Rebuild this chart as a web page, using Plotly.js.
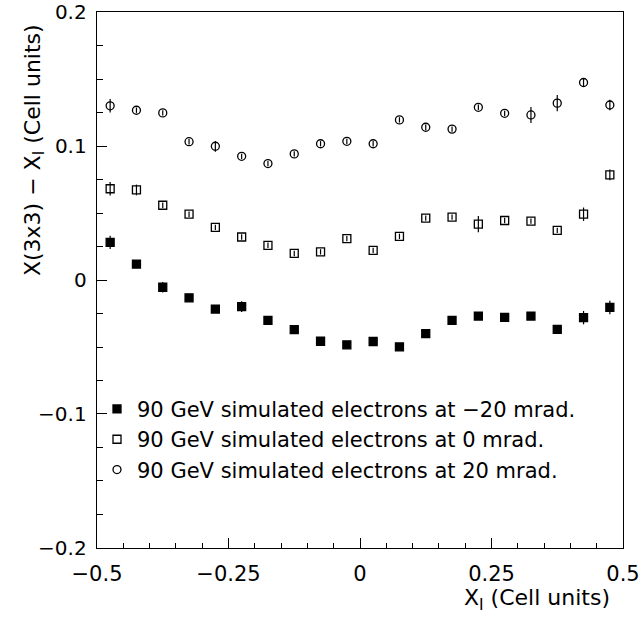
<!DOCTYPE html>
<html>
<head>
<meta charset="utf-8">
<script src="https://cdn.plot.ly/plotly-3.0.1.min.js"></script>
<style>html,body{margin:0;padding:0;background:#fff;}#chart{width:641px;height:620px;}</style>
</head>
<body>
<div id="chart"></div>
<script>
// impact position bin centres (cell units)
const xImpact = [-0.475,-0.425,-0.375,-0.325,-0.275,-0.225,-0.175,-0.125,-0.075,-0.025,
                 0.025,0.075,0.125,0.175,0.225,0.275,0.325,0.375,0.425,0.475];

// -20 mrad (filled squares)
const yMinus20 = [0.0281,0.0119,-0.0054,-0.0133,-0.0217,-0.0198,-0.0301,-0.0370,-0.0457,-0.0484,
                  -0.0459,-0.0499,-0.0400,-0.0301,-0.0269,-0.0279,-0.0269,-0.0368,-0.0281,-0.0205];
const eMinus20 = [0.005,0.002,0.004,0.003,0.002,0.004,0.002,0.002,0.002,0.002,
                  0.002,0.002,0.002,0.002,0.002,0.002,0.002,0.002,0.005,0.005];

// 0 mrad (open squares)
const yZero = [0.0681,0.0672,0.0558,0.0491,0.0393,0.0321,0.0259,0.0198,0.0210,0.0309,
               0.0221,0.0326,0.0462,0.0469,0.0417,0.0444,0.0439,0.0370,0.0491,0.0785];
const eZero = [0.005,0.004,0.002,0.002,0.002,0.002,0.002,0.002,0.002,0.002,
               0.002,0.002,0.002,0.002,0.006,0.002,0.002,0.002,0.005,0.004];

// +20 mrad (open circles)
const yPlus20 = [0.1300,0.1267,0.1247,0.1032,0.0998,0.0923,0.0869,0.0941,0.1017,0.1035,
                 0.1017,0.1195,0.1140,0.1126,0.1289,0.1244,0.1232,0.1320,0.1474,0.1306];
const ePlus20 = [0.005,0.002,0.002,0.002,0.004,0.002,0.002,0.002,0.002,0.002,
                 0.002,0.002,0.002,0.002,0.002,0.002,0.006,0.006,0.003,0.004];

const seriesNames = ["90 GeV simulated electrons at \u221220 mrad.",
                     "90 GeV simulated electrons at 0 mrad.",
                     "90 GeV simulated electrons at 20 mrad."];

const xTickVals = [-0.5,-0.25,0,0.25,0.5];
const xTickText = ["\u22120.5","\u22120.25","0","0.25","0.5"];
const yTickVals = [-0.2,-0.1,0,0.1,0.2];
const yTickText = ["\u22120.2","\u22120.1","0","0.1","0.2"];

const FONT = "DejaVu Sans, sans-serif";

function mk(y, e, name, symbol) {
  return {
    x: xImpact, y: y, name: name, type: "scatter", mode: "markers",
    marker: {symbol: symbol, size: 8, color: "black", line: {color: "black", width: 1.3}},
    error_y: {type: "data", array: e, visible: true, color: "black", thickness: 1.2, width: 0},
    cliponaxis: false
  };
}

const data = [
  mk(yMinus20, eMinus20, seriesNames[0], "square"),
  mk(yZero, eZero, seriesNames[1], "square-open"),
  mk(yPlus20, ePlus20, seriesNames[2], "circle-open")
];

const axisCommon = {
  showgrid: false, zeroline: false, showline: true, mirror: true,
  linecolor: "black", linewidth: 1.3,
  ticks: "inside", ticklen: 10, tickwidth: 1, tickcolor: "black",
  tickmode: "array", ticklabeloverflow: "allow",
  tickfont: {family: FONT, size: 21, color: "black"}
};

const layout = {
  width: 641, height: 620,
  margin: {l: 97, r: 18, t: 12, b: 72},
  paper_bgcolor: "white", plot_bgcolor: "white",
  font: {family: FONT, size: 21, color: "black"},
  showlegend: true,
  legend: {
    x: 0.0, y: 0.297, xanchor: "left", yanchor: "top",
    bgcolor: "rgba(0,0,0,0)", borderwidth: 0,
    font: {family: FONT, size: 21, color: "black"},
    itemwidth: 30, traceorder: "normal"
  },
  xaxis: Object.assign({}, axisCommon, {
    range: [-0.5, 0.5], tickvals: xTickVals, ticktext: xTickText,
    ticklabelstandoff: 6,
    minor: {dtick: 0.05, tick0: 0, ticks: "inside", ticklen: 5, tickcolor: "black", showgrid: false}
  }),
  yaxis: Object.assign({}, axisCommon, {
    range: [-0.20001, 0.20001], tickvals: yTickVals, ticktext: yTickText,
    ticklabelstandoff: 5,
    tickfont: {family: FONT, size: 20, color: "black"},
    minor: {dtick: 0.025, tick0: 0, ticks: "inside", ticklen: 6, tickcolor: "black", showgrid: false}
  }),
  annotations: [
    {text: "X(3x3) \u2212 X<sub>I</sub> (Cell units)", textangle: -90,
     xref: "paper", yref: "paper", x: -0.119, y: 0.982, xanchor: "center", yanchor: "top",
     showarrow: false, font: {family: FONT, size: 22, color: "black"}},
    {text: "X<sub>I</sub> (Cell units)",
     xref: "paper", yref: "paper", x: 0.98, y: -0.097, xanchor: "right", yanchor: "middle",
     showarrow: false, font: {family: FONT, size: 22, color: "black"}}
  ]
};

Plotly.newPlot("chart", data, layout, {displayModeBar: false, staticPlot: true});
</script>
</body>
</html>
